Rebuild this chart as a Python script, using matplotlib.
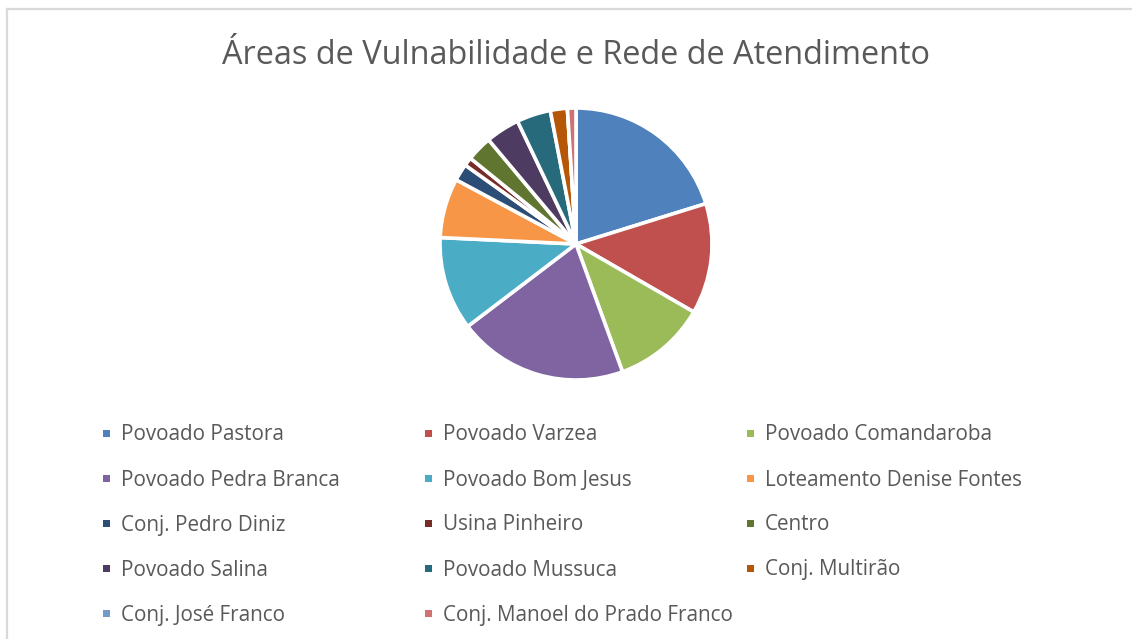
import matplotlib
matplotlib.use("Agg")
import matplotlib.pyplot as plt
from matplotlib.patches import Rectangle
from matplotlib.lines import Line2D

categories = ["Povoado Pastora", "Povoado Varzea", "Povoado Comandaroba",
              "Povoado Pedra Branca", "Povoado Bom Jesus", "Loteamento Denise Fontes",
              "Conj. Pedro Diniz", "Usina Pinheiro", "Centro",
              "Povoado Salina", "Povoado Mussuca", "Conj. Multirão",
              "Conj. José Franco", "Conj. Manoel do Prado Franco"]
values = [20, 13, 11, 20, 11, 7, 2, 1, 3, 4, 4, 2, 0, 1]
colors = ["#4F81BD", "#C0504D", "#9BBB59", "#8064A2", "#4BACC6", "#F79646",
          "#2C4D75", "#772C2A", "#5F7530", "#4D3B62", "#276A7C", "#B65708",
          "#729ACA", "#CD7371"]
title = "Áreas de Vulnabilidade e Rede de Atendimento"

W, H = 1132, 639
fig = plt.figure(figsize=(W / 100, H / 100), dpi=100)
plt.rcParams['font.family'] = ['Open Sans', 'DejaVu Sans']

# chart border (left and top visible)
fig.add_artist(Line2D([7 / W, 7 / W], [0, 1 - 9 / H], transform=fig.transFigure,
                      color="#D9D9D9", lw=1.6))
fig.add_artist(Line2D([7 / W, 1], [1 - 9 / H, 1 - 9 / H], transform=fig.transFigure,
                      color="#D9D9D9", lw=1.6))

fig.text(576 / W, 1 - 55 / H, title, ha="center", va="center",
         fontsize=23.4, color="#595959")

cx, cy, r = 576, 244, 136
ax = fig.add_axes([(cx - r) / W, (H - cy - r) / H, 2 * r / W, 2 * r / H])
ax.pie(values, colors=colors, startangle=90, counterclock=False, radius=1,
       wedgeprops=dict(edgecolor="white", linewidth=2.6))
ax.set_xlim(-1, 1)
ax.set_ylim(-1, 1)
ax.set_aspect("auto")
ax.axis("off")

# legend, row-wise in 3 columns
col_x = [103, 425, 747]
row_y = [433, 478, 523, 568, 613]
for i, (name, c) in enumerate(zip(categories, colors)):
    x = col_x[i % 3]
    y = row_y[i // 3]
    fig.add_artist(Rectangle((x / W, (H - y - 3.5) / H), 7 / W, 7 / H,
                             transform=fig.transFigure, facecolor=c, edgecolor="none"))
    fig.text((x + 18) / W, 1 - (y + 2) / H, name, ha="left", va="center",
             fontsize=14.9, color="#595959")

fig.savefig("out.png", dpi=100)
